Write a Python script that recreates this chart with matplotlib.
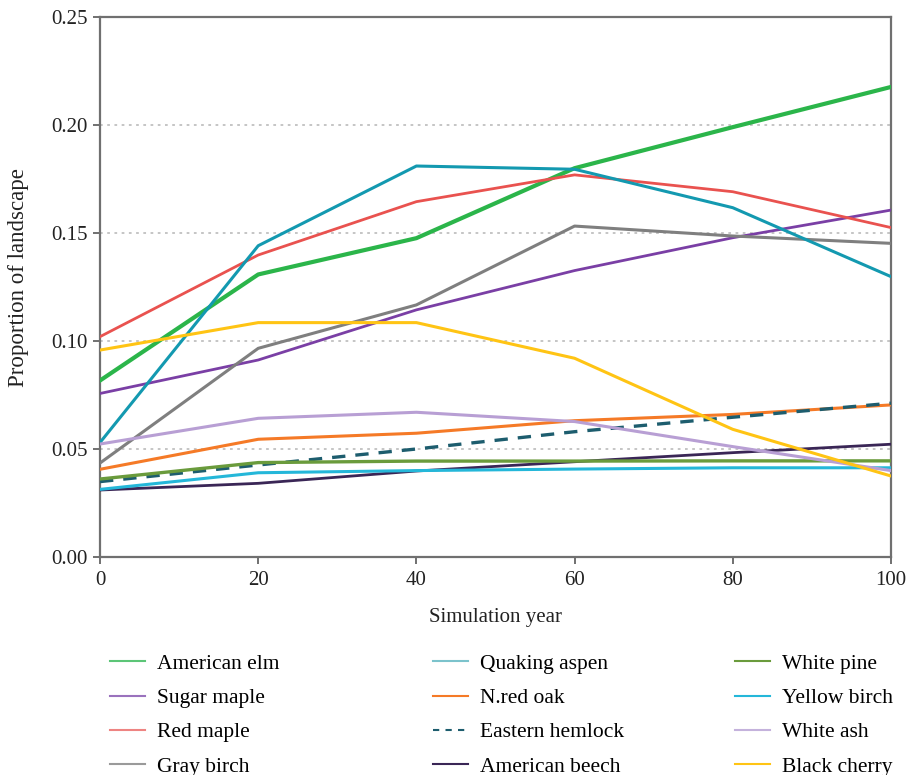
import matplotlib
matplotlib.use("Agg")
import matplotlib.pyplot as plt

plt.rcParams['font.family'] = ['Liberation Serif', 'DejaVu Serif']

years = [0, 20, 40, 60, 80, 100]

american_elm = [0.0817, 0.1308, 0.1476, 0.1800, 0.1990, 0.2176]
sugar_maple = [0.0757, 0.0912, 0.1144, 0.1326, 0.1478, 0.1606]
red_maple = [0.1020, 0.1398, 0.1645, 0.1769, 0.1691, 0.1525]
gray_birch = [0.0435, 0.0966, 0.1167, 0.1532, 0.1486, 0.1452]
quaking_aspen = [0.0530, 0.1441, 0.1810, 0.1795, 0.1617, 0.1298]
n_red_oak = [0.0406, 0.0545, 0.0573, 0.0631, 0.0660, 0.0704]
eastern_hemlock = [0.0349, 0.0426, 0.0500, 0.0580, 0.0647, 0.0712]
american_beech = [0.0310, 0.0341, 0.0398, 0.0441, 0.0483, 0.0522]
white_pine = [0.0361, 0.0437, 0.0444, 0.0444, 0.0445, 0.0445]
yellow_birch = [0.0313, 0.0390, 0.0400, 0.0407, 0.0413, 0.0413]
white_ash = [0.0523, 0.0642, 0.0670, 0.0627, 0.0511, 0.0400]
black_cherry = [0.0958, 0.1085, 0.1085, 0.0920, 0.0591, 0.0375]

fig = plt.figure(figsize=(9.06, 7.75), dpi=100)
ax = fig.add_axes([0.1104, 0.2813, 0.8730, 0.6968])

series = [
    ('American elm', american_elm, '#2bb54a', '-', 3.0),
    ('Sugar maple', sugar_maple, '#7a3fa5', '-', 2.0),
    ('Red maple', red_maple, '#e9524f', '-', 2.0),
    ('Gray birch', gray_birch, '#7f7f7f', '-', 2.2),
    ('Quaking aspen', quaking_aspen, '#1399b0', '-', 2.2),
    ('N.red oak', n_red_oak, '#f57a27', '-', 2.2),
    ('Eastern hemlock', eastern_hemlock, '#1d5d6e', '--', 2.4),
    ('American beech', american_beech, '#3a2656', '-', 2.0),
    ('White pine', white_pine, '#6a9b3c', '-', 2.4),
    ('Yellow birch', yellow_birch, '#24b7d9', '-', 2.2),
    ('White ash', white_ash, '#b89fd4', '-', 2.2),
    ('Black cherry', black_cherry, '#ffc414', '-', 2.2),
]

# legend swatches are a bit paler than the plotted lines
legend_colors = {'American elm': '#5cc577', 'Sugar maple': '#9a72bd',
                 'Red maple': '#ee8482', 'Gray birch': '#9a9a9a',
                 'Quaking aspen': '#7cc3cc', 'White ash': '#c4b2dc'}

handles = []
for name, vals, color, ls, lw in series:
    line, = ax.plot(years, vals, color=color, linestyle=ls, linewidth=lw, zorder=3)
    if name == 'Eastern hemlock':
        line.set_dashes((4, 3))
    h, = ax.plot([], [], color=legend_colors.get(name, color), linestyle=ls,
                 linewidth=1.5, label=name)
    if name == 'Eastern hemlock':
        h.set_dashes((3, 3))
    handles.append(h)

ax.set_xlim(0, 100)
ax.set_ylim(0, 0.25)
ax.set_xticks(years)
ax.set_yticks([0.0, 0.05, 0.10, 0.15, 0.20, 0.25])
ax.set_yticklabels(['0.00', '0.05', '0.10', '0.15', '0.20', '0.25'])
for y in [0.05, 0.10, 0.15, 0.20]:
    ax.axhline(y, color='#c0c0c0', linestyle=(0, (1.5, 2.5)), linewidth=1.3, zorder=1)

for sp in ax.spines.values():
    sp.set_color('#707070')
    sp.set_linewidth(1.6)
ax.tick_params(axis='both', direction='out', length=5, width=1.4, color='#707070',
               labelsize=15)
ax.tick_params(axis='x', pad=5)
ax.tick_params(axis='y', pad=4)
for lab in ax.get_xticklabels() + ax.get_yticklabels():
    lab.set_color('#222222')

ax.set_xlabel('Simulation year', fontsize=15, labelpad=13, color='#222222')
ax.set_ylabel('Proportion of landscape', fontsize=16.5, color='#222222')
ax.yaxis.set_label_coords(-0.09, 0.518)

# three separate legend columns, like the original layout
col_x = [0.1214, 0.4779, 0.8113]
for i, x in enumerate(col_x):
    fig.legend(handles=handles[i * 4:(i + 1) * 4], loc='upper left',
               bbox_to_anchor=(x, 0.1565), frameon=False, fontsize=15.5,
               handlelength=1.63, handletextpad=0.56, labelspacing=0.66,
               borderpad=0, borderaxespad=0)

fig.savefig('out.png', dpi=100)
